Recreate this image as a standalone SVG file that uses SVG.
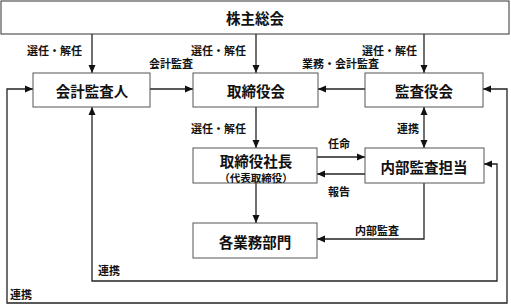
<svg xmlns="http://www.w3.org/2000/svg" width="511" height="305" viewBox="0 0 511 305">
<defs>
<marker id="ah" viewBox="0 0 8 8" refX="8" refY="4" markerWidth="8" markerHeight="8" markerUnits="userSpaceOnUse" orient="auto-start-reverse">
<path d="M0,0.5 L8,4 L0,7.5 Z" fill="#111"/>
</marker>
<style>
.box{fill:#fff;stroke:#555;stroke-width:1}
.t{font-family:"Noto Sans CJK JP","Noto Sans CJK SC",sans-serif;font-size:14.5px;font-weight:bold;fill:#111;text-anchor:middle;dominant-baseline:central}
.s{font-family:"Noto Sans CJK JP","Noto Sans CJK SC",sans-serif;font-size:10.5px;font-weight:bold;fill:#111;text-anchor:middle;dominant-baseline:central}
.l{font-family:"Noto Sans CJK JP","Noto Sans CJK SC",sans-serif;font-size:11px;font-weight:bold;fill:#111;dominant-baseline:central}
.c{fill:none;stroke:#222;stroke-width:1.3}
</style>
</defs>
<rect width="511" height="305" fill="#fff"/>
<g id="connectors">
<line class="c" x1="92" y1="34" x2="92" y2="73" marker-end="url(#ah)"/>
<line class="c" x1="256" y1="34" x2="256" y2="73" marker-end="url(#ah)"/>
<line class="c" x1="424" y1="34" x2="424" y2="73" marker-end="url(#ah)"/>
<line class="c" x1="150" y1="89" x2="193" y2="89" marker-end="url(#ah)"/>
<line class="c" x1="365" y1="89" x2="318" y2="89" marker-end="url(#ah)"/>
<line class="c" x1="256" y1="107" x2="256" y2="148" marker-end="url(#ah)"/>
<line class="c" x1="424" y1="107" x2="424" y2="148" marker-start="url(#ah)" marker-end="url(#ah)"/>
<line class="c" x1="317" y1="157" x2="365" y2="157" marker-end="url(#ah)"/>
<line class="c" x1="365" y1="174" x2="317" y2="174" marker-end="url(#ah)"/>
<line class="c" x1="256" y1="183" x2="256" y2="223" marker-end="url(#ah)"/>
<polyline class="c" points="424,183 424,239 317,239" marker-end="url(#ah)"/>
<polyline class="c" points="484,164 497,164 497,281 92,281 92,107" marker-start="url(#ah)" marker-end="url(#ah)"/>
<polyline class="c" points="483,89 507,89 507,303 7,303 7,89 33,89" marker-start="url(#ah)" marker-end="url(#ah)"/>
</g>
<g id="shareholders">
<rect class="box" x="1" y="1" width="508" height="33" style="stroke:#333"/>
<text class="t" x="255" y="17">株主総会</text>
</g>
<g id="auditor">
<rect class="box" x="33" y="73" width="117" height="34"/>
<text class="t" x="92" y="90">会計監査人</text>
</g>
<g id="board">
<rect class="box" x="193" y="73" width="125" height="34"/>
<text class="t" x="256" y="90">取締役会</text>
</g>
<g id="audit-board">
<rect class="box" x="365" y="73" width="118" height="34"/>
<text class="t" x="424" y="90">監査役会</text>
</g>
<g id="president">
<rect class="box" x="193" y="148" width="124" height="35"/>
<text class="t" x="256" y="160">取締役社長</text>
<text class="s" x="256" y="177">（代表取締役）</text>
</g>
<g id="internal-audit">
<rect class="box" x="365" y="148" width="119" height="35"/>
<text class="t" x="424" y="166">内部監査担当</text>
</g>
<g id="departments">
<rect class="box" x="193" y="223" width="124" height="35"/>
<text class="t" x="255" y="241">各業務部門</text>
</g>
<g id="labels">
<text class="l" x="27" y="50">選任・解任</text>
<text class="l" x="191" y="50">選任・解任</text>
<text class="l" x="362" y="50">選任・解任</text>
<text class="l" x="149" y="63">会計監査</text>
<text class="l" x="302" y="63">業務・会計監査</text>
<text class="l" x="191" y="128">選任・解任</text>
<text class="l" x="397" y="128">連携</text>
<text class="l" x="328" y="143">任命</text>
<text class="l" x="328" y="191">報告</text>
<text class="l" x="355" y="230">内部監査</text>
<text class="l" x="98" y="270">連携</text>
<text class="l" x="10" y="294">連携</text>
</g>
</svg>
